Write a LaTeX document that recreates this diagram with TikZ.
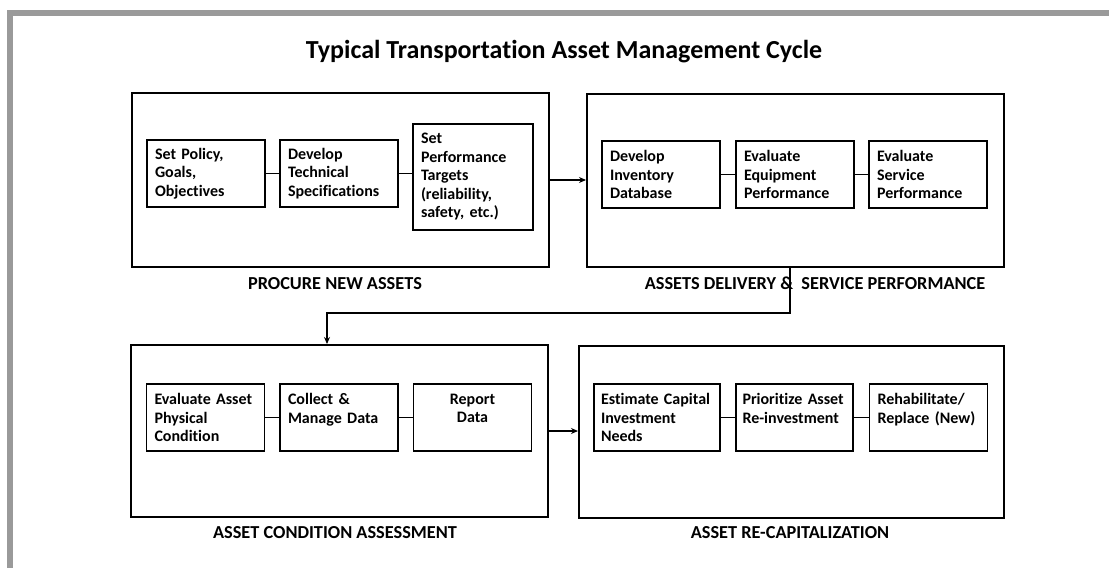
\documentclass[tikz,border=0pt]{standalone}
\usepackage{fontspec}
\setmainfont{Carlito}[Ligatures=NoCommon]
\usetikzlibrary{arrows.meta}
\definecolor{framegray}{HTML}{9A9A9A}
\frenchspacing
\begin{document}
\begin{tikzpicture}[x=1pt,y=-1pt,
  outerbox/.style={draw, line width=2pt, inner sep=0pt},
  innerbox/.style={draw, line width=1.5pt, inner xsep=8pt, inner ysep=0pt,
    text width=102pt, minimum height=67pt, align=left,
    execute at begin node={\hyphenpenalty=10000\exhyphenpenalty=10000},
    font=\fontsize{16}{18.5}\selectfont\bfseries},
  lbl/.style={font=\fontsize{18.3}{21}\selectfont\bfseries, inner sep=0pt, anchor=base},
  conn/.style={line width=1.3pt},
  arr/.style={line width=1.3pt, -{Stealth[length=7pt,width=6pt]}}]
\useasboundingbox (0,0) rectangle (1109,568);
% gray frame
\fill[framegray] (7,10) rectangle (1109,16);
\fill[framegray] (7,10) rectangle (13,568);
% title
\node[font=\fontsize{26}{30}\selectfont\bfseries, inner sep=0pt] (title) at (564,52)
  {Typical Transportation Asset Management Cycle};
% outer boxes
\node[outerbox, minimum width=417pt, minimum height=174pt] (O1) at (340.5,180) {};
\node[outerbox, minimum width=417pt, minimum height=173pt] (O2) at (795.5,180.5) {};
\node[outerbox, minimum width=417pt, minimum height=172pt] (O3) at (339.5,431) {};
\node[outerbox, minimum width=425pt, minimum height=172pt] (O4) at (791.5,432) {};
% labels
\node[lbl] (L1) at (335,289.5) {PROCURE NEW ASSETS};
\node[lbl] (L2) at (815,289.5) {ASSETS DELIVERY \&\ \ SERVICE PERFORMANCE};
\node[lbl] (L3) at (335,538.5) {ASSET CONDITION ASSESSMENT};
\node[lbl] (L4) at (790,538.5) {ASSET RE-CAPITALIZATION};
% inner boxes, top row
\node[innerbox] (b1) at (206,173.5) {Set Policy,\\Goals,\\Objectives};
\node[innerbox] (b2) at (339,173.5) {Develop\\Technical\\Specifications};
\node[innerbox, text width=104pt, minimum height=106pt] (b3) at (473,177)
  {Set\\Performance\\Targets\\(reliability,\\safety, etc.)};
\node[innerbox] (b4) at (661,174.5) {Develop\\Inventory\\Database};
\node[innerbox] (b5) at (795,174.5) {Evaluate\\Equipment\\Performance};
\node[innerbox] (b6) at (928,174.5) {Evaluate\\Service\\Performance};
% inner boxes, bottom row
\node[innerbox] (b7) at (205.5,417.5) {Evaluate Asset\\Physical\\Condition};
\node[innerbox] (b8) at (339,417.5) {Collect \&\\Manage Data\\\mbox{}};
\node[innerbox, align=center] (b9) at (472.5,417.5) {Report\\Data\\\mbox{}};
\node[innerbox, text width=112pt, inner xsep=7pt] (b10) at (657,417.5) {Estimate Capital\\Investment\\Needs};
\node[innerbox, text width=104pt, inner xsep=6.5pt] (b11) at (794.5,417.5) {Prioritize Asset\\Re-investment\\\mbox{}};
\node[innerbox] (b12) at (928.5,417.5) {Rehabilitate/\\Replace (New)\\\mbox{}};
% connectors between inner boxes
\draw[conn] (b1) -- (b2);
\draw[conn] (b2.east) -- (b2.east -| b3.west);
\draw[conn] (b4) -- (b5);
\draw[conn] (b5) -- (b6);
\draw[conn] (b7) -- (b8);
\draw[conn] (b8) -- (b9);
\draw[conn] (b10) -- (b11);
\draw[conn] (b11) -- (b12);
% flow arrows
\draw[arr] (O1.east) -- (O1.east -| O2.west);
\draw[arr] (O3.east) -- (O3.east -| O4.west);
\coordinate (t1) at (790,313);
\coordinate (t2) at (327,313);
\draw[arr] (O2.south -| t1) -- (t1) -- (t2) -- (O3.north -| t2);
\end{tikzpicture}
\end{document}
